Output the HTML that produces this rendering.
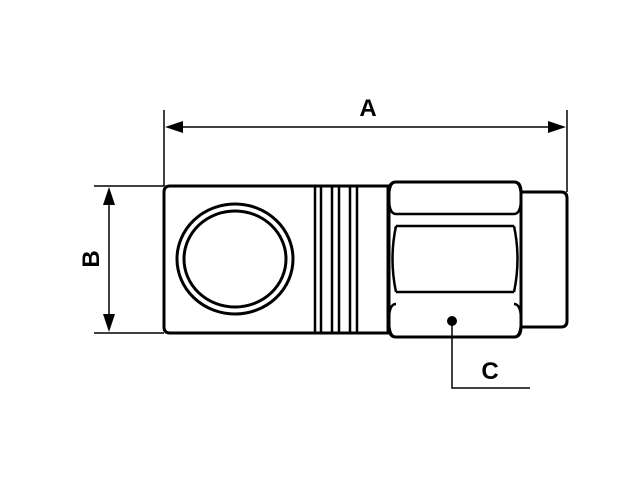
<!DOCTYPE html>
<html><head><style>body{margin:0;background:#fff}svg{display:block}</style></head>
<body>
<svg width="640" height="480" viewBox="0 0 640 480" xmlns="http://www.w3.org/2000/svg">
<g fill="none" stroke="#000">
<!-- dimension A -->
<line x1="164" y1="110" x2="164" y2="186" stroke-width="1.5"/>
<line x1="567" y1="110" x2="567" y2="192" stroke-width="1.5"/>
<line x1="170" y1="127" x2="561" y2="127" stroke-width="1.5"/>
<!-- dimension B -->
<line x1="94" y1="186" x2="164" y2="186" stroke-width="1.5"/>
<line x1="94" y1="333" x2="164" y2="333" stroke-width="1.5"/>
<line x1="109" y1="192" x2="109" y2="327" stroke-width="1.5"/>
<!-- body -->
<path d="M170 186 H388 V333 H170 Q164 333 164 327 V192 Q164 186 170 186 Z" stroke-width="3"/>
<line x1="315" y1="186" x2="315" y2="333" stroke-width="2.5"/>
<line x1="321" y1="186" x2="321" y2="333" stroke-width="2.5"/>
<line x1="332" y1="186" x2="332" y2="333" stroke-width="2.5"/>
<line x1="339" y1="186" x2="339" y2="333" stroke-width="2.5"/>
<line x1="350" y1="186" x2="350" y2="333" stroke-width="2.5"/>
<line x1="357" y1="186" x2="357" y2="333" stroke-width="2.5"/>
<ellipse cx="235" cy="259" rx="58" ry="55" stroke-width="3"/>
<ellipse cx="235" cy="259" rx="51" ry="48" stroke-width="3"/>
<!-- right sleeve -->
<path d="M521 192 H561 Q567 192 567 198 V321 Q567 327 561 327 H521" stroke-width="3"/>
<!-- hex nut -->
<path d="M396 182 H514 Q521 182 521 192 V327 Q521 337 514 337 H396 Q389 337 389 327 V192 Q389 182 396 182 Z" stroke-width="3"/>
<path d="M396 182 Q389 182 389 198 Q389 214 396 214 H514 Q521 214 521 198 Q521 182 514 182" stroke-width="2.5"/>
<path d="M396 304 Q389 304 389 320 Q389 337 396 337 H514 Q521 337 521 320 Q521 304 514 304" stroke-width="2.5"/>
<line x1="396" y1="226" x2="514" y2="226" stroke-width="2.5"/>
<line x1="396" y1="292" x2="514" y2="292" stroke-width="2.5"/>
<path d="M396 226 Q389 259 396 292" stroke-width="2.5"/>
<path d="M514 226 Q521 259 514 292" stroke-width="2.5"/>
<!-- C leader -->
<polyline points="452,321 452,388 530,388" stroke-width="1.5"/>
</g>
<g fill="#000">
<polygon points="165,127 183,121 183,133"/>
<polygon points="566,127 548,121 548,133"/>
<polygon points="109,187 103,205 115,205"/>
<polygon points="109,332 103,314 115,314"/>
<circle cx="452" cy="321" r="5"/>
</g>
<g font-family="Liberation Sans, sans-serif" font-weight="bold" font-size="24" fill="#000" text-anchor="middle">
<text x="368" y="116">A</text>
<text x="490" y="379">C</text>
<text x="0" y="0" transform="translate(99,259) rotate(-90)">B</text>
</g>
</svg>
</body></html>
